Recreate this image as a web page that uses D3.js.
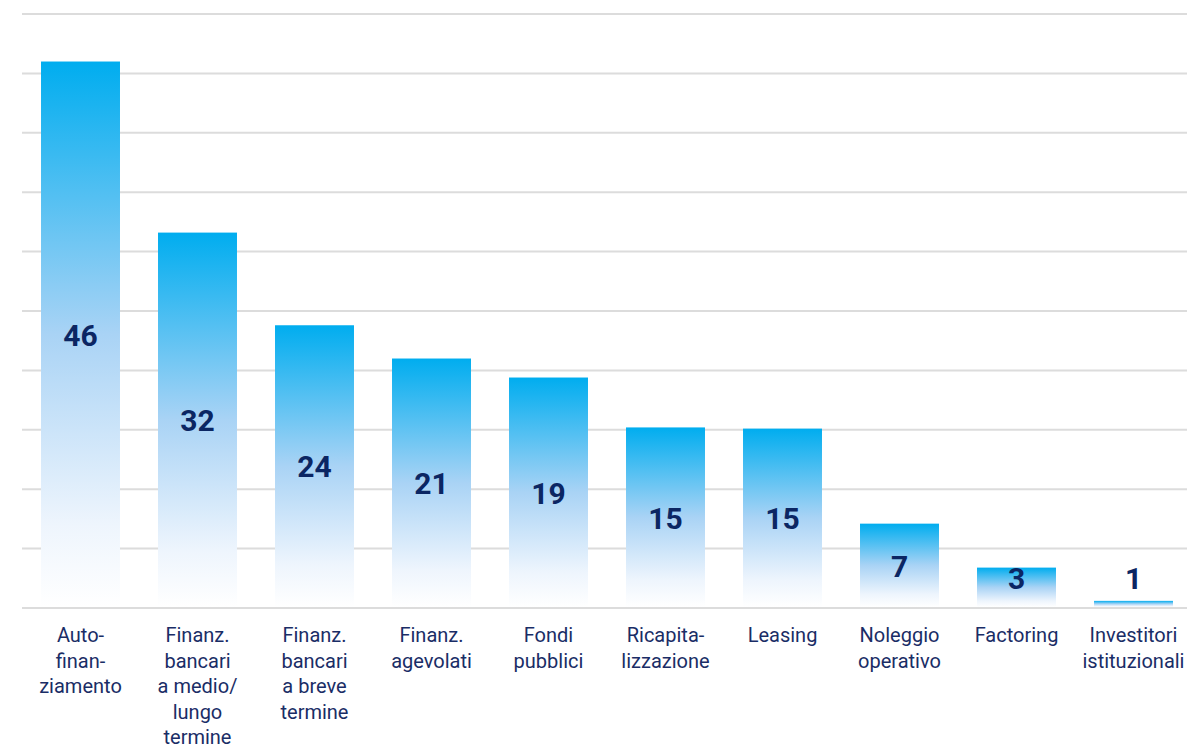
<html lang="en">
<head>
    <meta charset="UTF-8">
    <title>Fonti di finanziamento</title>
    <style>
        body { margin: 0; background: #fff; font-family: Roboto, "Noto Sans", sans-serif; }
    </style>
</head>
<body>
    <script src="https://d3js.org/d3.v7.min.js"></script>
    <script>
        const categories = [
            ["Auto-", "finan-", "ziamento"],
            ["Finanz.", "bancari", "a medio/", "lungo", "termine"],
            ["Finanz.", "bancari", "a breve", "termine"],
            ["Finanz.", "agevolati"],
            ["Fondi", "pubblici"],
            ["Ricapita-", "lizzazione"],
            ["Leasing"],
            ["Noleggio", "operativo"],
            ["Factoring"],
            ["Investitori", "istituzionali"]
        ];
        const values = [46, 31.6, 23.8, 21.0, 19.4, 15.2, 15.1, 7.1, 3.4, 0.6];
        const yTicks = [0, 5, 10, 15, 20, 25, 30, 35, 40, 45, 50];

        const w = 1187;
        const h = 747;
        const plotTop = 14, baseline = 608;

        const svg = d3.select("body")
            .append("svg")
            .attr("width", w)
            .attr("height", h);

        const defs = svg.append("defs");
        const grad = defs.append("linearGradient")
            .attr("id", "barGrad")
            .attr("x1", 0).attr("y1", 0).attr("x2", 0).attr("y2", 1);
        grad.append("stop").attr("offset", "0%").attr("stop-color", "#00adef");
        grad.append("stop").attr("offset", "50%").attr("stop-color", "#a9d3f5");
        grad.append("stop").attr("offset", "85%").attr("stop-color", "#eef5fd");
        grad.append("stop").attr("offset", "100%").attr("stop-color", "#ffffff");

        const xScale = d3.scaleBand()
            .domain(d3.range(categories.length))
            .range([22, 1192])
            .paddingInner(0.325)
            .paddingOuter(0.1625);

        const yScale = d3.scaleLinear()
            .domain([0, 50])
            .range([baseline, plotTop]);

        // gridlines
        svg.append("g")
            .selectAll("line")
            .data(yTicks)
            .enter()
            .append("line")
            .attr("x1", 22)
            .attr("x2", w)
            .attr("y1", (d) => yScale(d))
            .attr("y2", (d) => yScale(d))
            .attr("stroke", "#dcdcdc")
            .attr("stroke-width", 2);

        // bars
        svg.append("g")
            .selectAll("rect")
            .data(values)
            .enter()
            .append("rect")
            .attr("x", (d, i) => xScale(i))
            .attr("y", (d) => yScale(d))
            .attr("width", xScale.bandwidth())
            .attr("height", (d) => baseline - yScale(d) - 1)
            .attr("fill", "url(#barGrad)");

        // value labels
        svg.append("g")
            .selectAll("text")
            .data(values)
            .enter()
            .append("text")
            .attr("x", (d, i) => xScale(i) + xScale.bandwidth() / 2)
            .attr("y", (d) => Math.min((yScale(d) + baseline) / 2, 578))
            .attr("dy", "0.36em")
            .attr("text-anchor", "middle")
            .attr("font-size", 30)
            .attr("font-weight", "bold")
            .attr("fill", "#0b2663")
            .text((d) => d3.format(".0f")(d));

        // category labels
        const cats = svg.append("g")
            .selectAll("text")
            .data(categories)
            .enter()
            .append("text")
            .attr("x", (d, i) => xScale(i) + xScale.bandwidth() / 2)
            .attr("y", 642)
            .attr("text-anchor", "middle")
            .attr("font-size", 20)
            .attr("fill", "#1a2d66");

        cats.selectAll("tspan")
            .data((d) => d)
            .enter()
            .append("tspan")
            .attr("x", function () { return this.parentNode.getAttribute("x"); })
            .attr("dy", (d, i) => i === 0 ? 0 : 25.5)
            .text((d) => d);
    </script>
</body>
</html>
